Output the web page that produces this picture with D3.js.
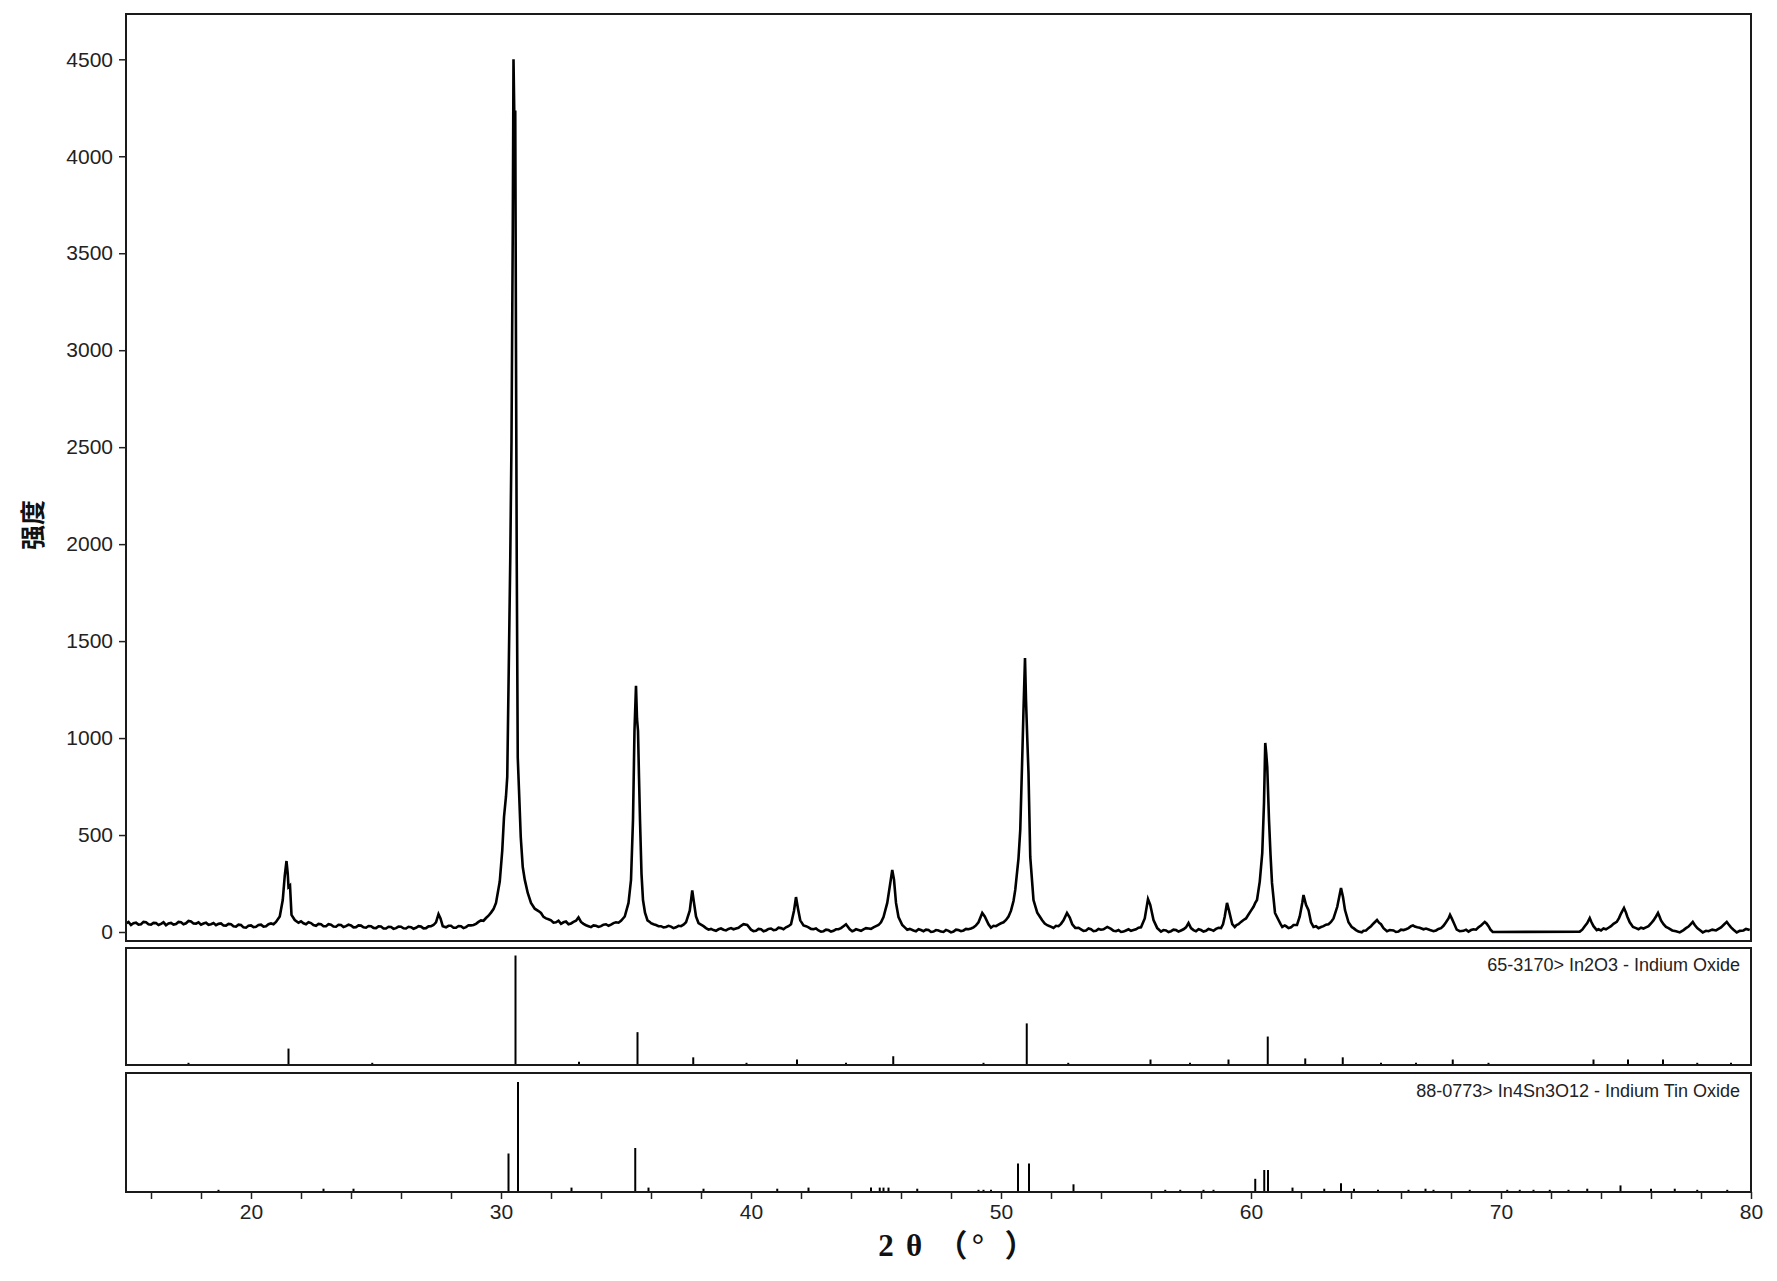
<!DOCTYPE html>
<html><head><meta charset="utf-8">
<script src="https://cdn.jsdelivr.net/npm/d3@7"></script>
<style>body{margin:0;background:#fff}</style>
</head><body>
<svg id="chart" width="1777" height="1281"></svg>
<script>
// ---- data ----
const xrdPattern = [
[15.0,44],[15.1,52],[15.2,36],[15.3,45],[15.4,48],[15.5,38],[15.6,40],[15.7,52],[15.8,50],[15.9,40],[16.0,38],[16.1,47],[16.2,46],[16.3,36],[16.4,42],[16.5,50],[16.6,35],[16.7,44],[16.8,47],[16.9,38],[17.0,41],[17.1,52],[17.2,50],[17.3,40],[17.4,45],[17.5,57],[17.6,54],[17.7,44],[17.8,43],[17.9,50],[18.0,38],[18.1,44],[18.2,48],[18.3,37],[18.4,40],[18.5,46],[18.6,35],[18.7,42],[18.8,44],[18.9,34],[19.0,33],[19.1,42],[19.2,40],[19.3,30],[19.4,28],[19.5,38],[19.6,36],[19.7,24],[19.8,22],[19.9,32],[20.0,34],[20.1,25],[20.2,27],[20.3,36],[20.4,38],[20.5,28],[20.6,30],[20.7,40],[20.8,44],[20.9,40],[21.0,52],[21.15,80],[21.27,165],[21.35,290],[21.42,366],[21.47,300],[21.5,232],[21.56,240],[21.62,88],[21.75,62],[21.9,48],[22.0,55],[22.1,45],[22.2,40],[22.3,50],[22.4,46],[22.5,36],[22.6,32],[22.7,42],[22.8,40],[22.9,30],[23.0,30],[23.1,40],[23.2,38],[23.3,28],[23.4,27],[23.5,37],[23.6,36],[23.7,26],[23.8,30],[23.9,38],[24.0,34],[24.1,24],[24.2,25],[24.3,34],[24.4,33],[24.5,24],[24.6,22],[24.7,31],[24.8,30],[24.9,21],[25.0,20],[25.1,29],[25.2,28],[25.3,18],[25.4,18],[25.5,27],[25.6,26],[25.7,16],[25.8,20],[25.9,28],[26.0,27],[26.1,19],[26.2,18],[26.3,27],[26.4,25],[26.5,17],[26.6,22],[26.7,30],[26.8,28],[26.9,19],[27.0,20],[27.1,29],[27.2,30],[27.3,36],[27.4,50],[27.5,92],[27.58,70],[27.67,30],[27.8,24],[27.9,32],[28.0,32],[28.1,22],[28.2,22],[28.3,31],[28.4,30],[28.5,20],[28.6,25],[28.7,35],[28.8,34],[28.9,36],[29.0,42],[29.1,52],[29.2,60],[29.3,58],[29.4,72],[29.5,84],[29.6,100],[29.7,118],[29.8,150],[29.95,260],[30.05,420],[30.12,593],[30.2,700],[30.25,800],[30.3,1264],[30.37,1920],[30.42,2530],[30.47,3600],[30.5,4500],[30.53,4229],[30.57,4229],[30.6,3000],[30.63,1900],[30.67,900],[30.72,732],[30.79,490],[30.87,335],[30.95,270],[31.07,201],[31.2,150],[31.35,120],[31.5,108],[31.6,98],[31.7,78],[31.8,70],[31.9,66],[32.0,60],[32.1,48],[32.2,50],[32.3,58],[32.4,42],[32.5,50],[32.6,54],[32.7,40],[32.8,44],[32.9,52],[33.0,58],[33.1,75],[33.2,52],[33.3,42],[33.4,35],[33.5,30],[33.6,25],[33.7,34],[33.8,32],[33.9,26],[34.0,30],[34.1,38],[34.2,40],[34.3,32],[34.4,38],[34.5,46],[34.6,50],[34.7,48],[34.8,58],[34.95,80],[35.1,150],[35.2,268],[35.28,578],[35.34,1042],[35.4,1270],[35.44,1100],[35.48,1037],[35.52,800],[35.56,578],[35.62,300],[35.68,165],[35.76,100],[35.86,60],[35.95,52],[36.0,46],[36.1,40],[36.2,36],[36.3,30],[36.4,30],[36.5,24],[36.6,26],[36.7,32],[36.8,28],[36.9,20],[37.0,24],[37.1,32],[37.2,30],[37.3,38],[37.4,50],[37.55,110],[37.65,215],[37.72,150],[37.8,80],[37.9,46],[38.0,38],[38.1,30],[38.2,20],[38.3,12],[38.4,16],[38.5,10],[38.6,6],[38.7,14],[38.8,18],[38.9,12],[39.0,8],[39.1,16],[39.2,20],[39.3,14],[39.4,18],[39.5,22],[39.6,32],[39.7,40],[39.85,36],[40.0,12],[40.1,4],[40.2,6],[40.3,16],[40.4,14],[40.5,4],[40.6,8],[40.7,16],[40.8,18],[40.9,10],[41.0,12],[41.1,22],[41.2,20],[41.3,14],[41.4,24],[41.5,30],[41.6,40],[41.72,110],[41.8,180],[41.88,120],[41.97,60],[42.1,34],[42.2,30],[42.3,24],[42.4,16],[42.5,14],[42.6,18],[42.7,8],[42.8,2],[42.9,4],[43.0,12],[43.1,10],[43.2,2],[43.3,6],[43.4,14],[43.5,14],[43.6,20],[43.7,30],[43.8,40],[43.95,14],[44.05,4],[44.1,6],[44.2,14],[44.3,10],[44.4,6],[44.5,14],[44.6,20],[44.7,18],[44.8,16],[44.9,24],[45.0,30],[45.1,36],[45.2,50],[45.3,77],[45.45,150],[45.58,260],[45.65,320],[45.72,270],[45.8,150],[45.9,77],[46.05,36],[46.15,24],[46.25,12],[46.35,16],[46.5,8],[46.6,4],[46.7,14],[46.8,10],[46.9,4],[47.0,12],[47.1,10],[47.2,0],[47.3,2],[47.4,10],[47.5,8],[47.6,2],[47.7,0],[47.8,10],[47.9,6],[48.0,-2],[48.1,2],[48.2,12],[48.3,10],[48.4,4],[48.5,8],[48.6,16],[48.7,14],[48.8,18],[48.9,24],[49.0,34],[49.1,50],[49.25,98],[49.35,80],[49.5,40],[49.6,22],[49.7,32],[49.8,30],[49.9,38],[50.0,45],[50.1,50],[50.2,62],[50.3,80],[50.4,110],[50.5,160],[50.57,217],[50.7,380],[50.77,526],[50.85,900],[50.9,1145],[50.96,1413],[51.0,1196],[51.05,1000],[51.1,820],[51.17,387],[51.3,165],[51.38,130],[51.45,100],[51.55,80],[51.64,62],[51.75,44],[51.85,35],[51.95,30],[52.1,21],[52.2,32],[52.3,30],[52.4,42],[52.5,60],[52.64,98],[52.75,75],[52.85,40],[52.97,21],[53.1,22],[53.2,14],[53.3,6],[53.4,8],[53.5,18],[53.6,14],[53.7,4],[53.8,6],[53.9,16],[54.0,12],[54.1,14],[54.25,26],[54.4,16],[54.5,6],[54.6,4],[54.7,10],[54.8,0],[54.9,2],[55.0,8],[55.1,14],[55.2,6],[55.3,10],[55.4,14],[55.5,22],[55.6,24],[55.75,70],[55.88,170],[55.97,140],[56.1,62],[56.25,20],[56.3,14],[56.4,2],[56.5,10],[56.6,8],[56.7,0],[56.8,4],[56.9,12],[57.0,10],[57.1,2],[57.2,8],[57.3,14],[57.4,24],[57.5,46],[57.6,20],[57.7,10],[57.8,4],[57.9,14],[58.0,10],[58.1,2],[58.2,6],[58.3,16],[58.4,12],[58.5,6],[58.6,16],[58.7,22],[58.8,20],[58.88,40],[58.95,80],[59.04,150],[59.12,110],[59.25,40],[59.35,26],[59.42,36],[59.5,40],[59.6,52],[59.7,62],[59.8,70],[59.9,90],[60.0,110],[60.1,130],[60.17,150],[60.24,165],[60.35,260],[60.45,407],[60.52,665],[60.57,975],[60.61,920],[60.65,851],[60.72,578],[60.78,400],[60.84,253],[60.96,98],[61.1,62],[61.18,42],[61.25,26],[61.35,34],[61.4,30],[61.5,20],[61.6,24],[61.7,36],[61.84,36],[61.95,80],[62.05,150],[62.1,191],[62.2,140],[62.3,113],[62.4,50],[62.5,26],[62.6,30],[62.7,20],[62.8,26],[62.9,30],[63.0,38],[63.1,40],[63.2,52],[63.3,70],[63.45,130],[63.6,227],[63.68,180],[63.76,113],[63.9,50],[64.03,26],[64.1,20],[64.2,10],[64.3,2],[64.43,-2],[64.5,6],[64.6,8],[64.7,20],[64.8,30],[64.9,44],[65.04,62],[65.12,48],[65.2,40],[65.3,20],[65.44,4],[65.55,10],[65.7,8],[65.8,0],[65.9,2],[66.0,12],[66.1,10],[66.2,14],[66.3,20],[66.4,30],[66.48,34],[66.55,28],[66.65,24],[66.75,22],[66.9,14],[67.0,18],[67.16,10],[67.3,4],[67.4,8],[67.5,16],[67.6,20],[67.7,32],[67.8,50],[67.9,70],[67.96,88],[68.03,70],[68.1,50],[68.23,12],[68.35,4],[68.5,6],[68.6,12],[68.7,2],[68.8,10],[68.9,14],[69.0,12],[69.1,24],[69.2,34],[69.35,52],[69.42,44],[69.5,30],[69.58,12],[69.67,0],[73.15,2],[73.25,12],[73.35,30],[73.45,46],[73.55,72],[73.62,50],[73.7,30],[73.83,10],[73.9,14],[74.0,8],[74.1,18],[74.2,14],[74.3,22],[74.4,30],[74.5,42],[74.63,52],[74.72,72],[74.8,95],[74.92,124],[75.0,100],[75.05,80],[75.15,50],[75.28,26],[75.4,20],[75.5,14],[75.6,22],[75.7,18],[75.8,24],[75.9,30],[76.0,44],[76.1,60],[76.2,80],[76.28,98],[76.34,80],[76.4,60],[76.5,40],[76.6,26],[76.7,20],[76.85,8],[77.0,4],[77.15,-2],[77.3,10],[77.4,20],[77.5,28],[77.6,42],[77.67,52],[77.75,36],[77.85,20],[77.95,10],[78.07,-2],[78.2,6],[78.3,4],[78.45,12],[78.6,8],[78.7,16],[78.8,24],[78.9,36],[79.03,52],[79.1,40],[79.2,24],[79.3,12],[79.43,-2],[79.55,6],[79.7,8],[79.8,16],[79.95,10]
];
const in2o3Sticks = [
[17.5,2],[21.5,15],[24.85,2],[30.58,100],[33.12,3],[35.46,30],[37.69,7],[39.82,2],[41.84,5],[43.8,2],[45.69,8],[49.3,2],[51.03,38],[52.69,2],[55.98,5],[57.56,2],[59.1,5],[60.67,26],[62.17,6],[63.67,7],[65.2,2],[66.6,2],[68.07,5],[69.5,2],[73.7,5],[75.08,5],[76.48,5],[77.85,2],[79.2,2]
];
const itoSticks = [
[18.7,2],[22.9,3],[24.1,3],[30.3,35],[30.68,100],[32.82,4],[35.37,40],[35.9,4],[38.1,3],[41.05,3],[42.3,4],[44.8,4],[45.15,4],[45.3,4],[45.5,4],[46.65,3],[49.1,2],[49.3,2],[49.6,2],[50.68,26],[51.12,26],[52.9,7],[56.57,2],[57.17,2],[58.1,2],[58.5,2],[60.17,12],[60.53,20],[60.68,20],[61.66,4],[62.93,3],[63.6,8],[64.12,3],[65.08,2],[66.3,2],[66.98,3],[67.3,2],[68.75,2],[70.25,2],[70.75,2],[71.3,2],[71.95,2],[72.7,2],[73.45,3],[74.78,6],[76.0,3],[76.95,3],[77.85,2],[79.05,2]
];
const intensityTicks = [0,500,1000,1500,2000,2500,3000,3500,4000,4500];
const twoThetaTicks = d3.range(16, 81, 2);
const twoThetaLabels = [20,30,40,50,60,70,80];
const phaseLabels = ["65-3170> In2O3 - Indium Oxide", "88-0773> In4Sn3O12 - Indium Tin Oxide"];
const xTitleGlyphs = ["2","θ","（","°","）"];
const yTitle = "强度";

// ---- layout ----
const svg = d3.select("#chart");
const L = 126, R = 1751;
const main = {top:14, bottom:941};
const p2 = {top:948, bottom:1065};
const p3 = {top:1073, bottom:1192};

const x = d3.scaleLinear().domain([15,80]).range([L,R]);
const yMain = d3.scaleLinear().domain([0,4500]).range([932,59.3]);
const y2 = d3.scaleLinear().domain([0,100]).range([p2.bottom, 955.5]);
const y3 = d3.scaleLinear().domain([0,100]).range([p3.bottom, 1082]);

svg.append("defs").append("clipPath").attr("id","clipMain")
  .append("rect").attr("x",L).attr("y",main.top).attr("width",R-L).attr("height",main.bottom-main.top);

// main pattern
const line = d3.line().x(d=>x(d[0])).y(d=>yMain(d[1]));
svg.append("path").datum(xrdPattern)
  .attr("clip-path","url(#clipMain)")
  .attr("d",line).attr("fill","none").attr("stroke","#000")
  .attr("stroke-width",2.6).attr("stroke-linejoin","miter");

// stick panels
function sticks(data, y, bottom){
  svg.append("g").selectAll("line").data(data).join("line")
    .attr("x1",d=>x(d[0])).attr("x2",d=>x(d[0]))
    .attr("y1",bottom).attr("y2",d=>Math.min(y(d[1]), bottom-2))
    .attr("stroke","#000").attr("stroke-width",2);
}
sticks(in2o3Sticks, y2, p2.bottom);
sticks(itoSticks, y3, p3.bottom);

// frames
[main,p2,p3].forEach(p=>{
  svg.append("rect").attr("x",L).attr("y",p.top).attr("width",R-L).attr("height",p.bottom-p.top)
    .attr("fill","none").attr("stroke","#1a1a1a").attr("stroke-width",2);
});

// axes
const fontAxis = "'Liberation Sans', Arial, sans-serif";
const gy = svg.append("g").attr("transform",`translate(${L},0)`)
  .call(d3.axisLeft(yMain).tickValues(intensityTicks).tickSize(7).tickPadding(6).tickFormat(d3.format("d")));
gy.select(".domain").remove();
gy.selectAll("line").attr("stroke","#222").attr("stroke-width",1.5);
gy.selectAll("text").attr("font-family",fontAxis).attr("font-size",21).attr("fill","#222");

const gx = svg.append("g").attr("transform",`translate(0,${p3.bottom})`)
  .call(d3.axisBottom(x).tickValues(twoThetaTicks).tickSize(7).tickPadding(5)
    .tickFormat(d => twoThetaLabels.includes(d) ? d : ""));
gx.select(".domain").remove();
gx.selectAll("line").attr("stroke","#222").attr("stroke-width",1.5);
gx.selectAll("text").attr("font-family",fontAxis).attr("font-size",21).attr("fill","#222");

// phase labels
svg.append("text").attr("x",1740).attr("y",971).attr("text-anchor","end")
  .attr("font-family",fontAxis).attr("font-size",18).attr("fill","#222").text(phaseLabels[0]);
svg.append("text").attr("x",1740).attr("y",1097).attr("text-anchor","end")
  .attr("font-family",fontAxis).attr("font-size",18).attr("fill","#222").text(phaseLabels[1]);

// axis titles
const xTitleX = [886, 914, 952, 978, 1020];
svg.append("text").attr("y",1256).attr("text-anchor","middle")
  .attr("x", xTitleX.join(" "))
  .attr("font-family","'Liberation Serif', 'Noto Sans CJK SC', serif").attr("font-weight","bold")
  .attr("font-size",31).attr("fill","#111").text(xTitleGlyphs.join(""));
svg.append("text").attr("transform","translate(42,525) rotate(-90)").attr("text-anchor","middle")
  .attr("font-family","'Noto Sans CJK SC', sans-serif").attr("font-weight","bold")
  .attr("font-size",25).attr("fill","#111").text(yTitle);
</script>
</body></html>
